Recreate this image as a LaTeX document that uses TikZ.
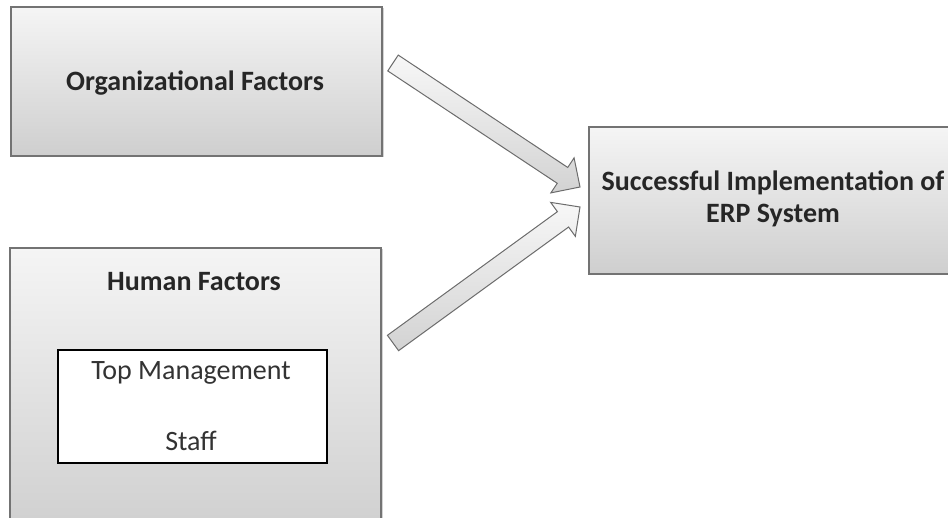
\documentclass[tikz,border=0pt]{standalone}
\usepackage{fontspec}
\setmainfont{Carlito}
\usetikzlibrary{calc,shadows}
\tikzset{
  factorbox/.style={draw=gray!90!black, line width=1.2pt, top color=gray!8, bottom color=gray!38, drop shadow={shadow xshift=1.5pt, shadow yshift=-1.5pt, opacity=0.35}},
  innerbox/.style={draw=black, line width=1.8pt, fill=white},
  title/.style={font=\bfseries\fontsize{28}{32}\selectfont, text=black!85, align=center},
  plain/.style={font=\fontsize{28}{32}\selectfont, text=black!80},
  arrowbody/.style={draw=gray!85!black, line width=1pt, line join=miter, top color=gray!6, bottom color=gray!35}
}
\newcommand{\blockarrow}[2]{%
  \path[arrowbody] let \p1=($(#2)-(#1)$), \n1={atan2(\y1,\x1)}, \n2={veclen(\x1,\y1)-21} in
    ($(#1)+(\n1+90:9.5)$) -- ($(#1)+(\n1:\n2)+(\n1+90:9.5)$) -- ($(#1)+(\n1:\n2)+(\n1+90:21)$)
    -- (#2) -- ($(#1)+(\n1:\n2)+(\n1-90:21)$) -- ($(#1)+(\n1:\n2)+(\n1-90:9.5)$)
    -- ($(#1)+(\n1-90:9.5)$) -- cycle;}
\begin{document}
\begin{tikzpicture}[x=1pt,y=1pt]
\useasboundingbox (0,0) rectangle (948,517);
% boxes
\path[factorbox] (11,361) rectangle (382,510);
\node[title] (org) at (195,434) {Organizational Factors};
\path[factorbox] (10,-20) rectangle (381,269);
\node[title] (hum) at (194,235) {Human Factors};
\node[innerbox, minimum width=269pt, minimum height=113pt] (inner) at (192.5,110.5) {};
\node[plain] (top) at (191,144) {Top Management};
\node[plain] (staff) at (191,76) {Staff};
\path[factorbox] (589,243) rectangle (970,390);
\node[title] (succ) at (773,318) {Successful Implementation of\\ERP System};
% arrows
\coordinate (t1) at (393,454);
\coordinate (h1) at (580,330);
\coordinate (t2) at (393,174);
\coordinate (h2) at (580,310);
\blockarrow{t1}{h1}
\blockarrow{t2}{h2}
\end{tikzpicture}
\end{document}
